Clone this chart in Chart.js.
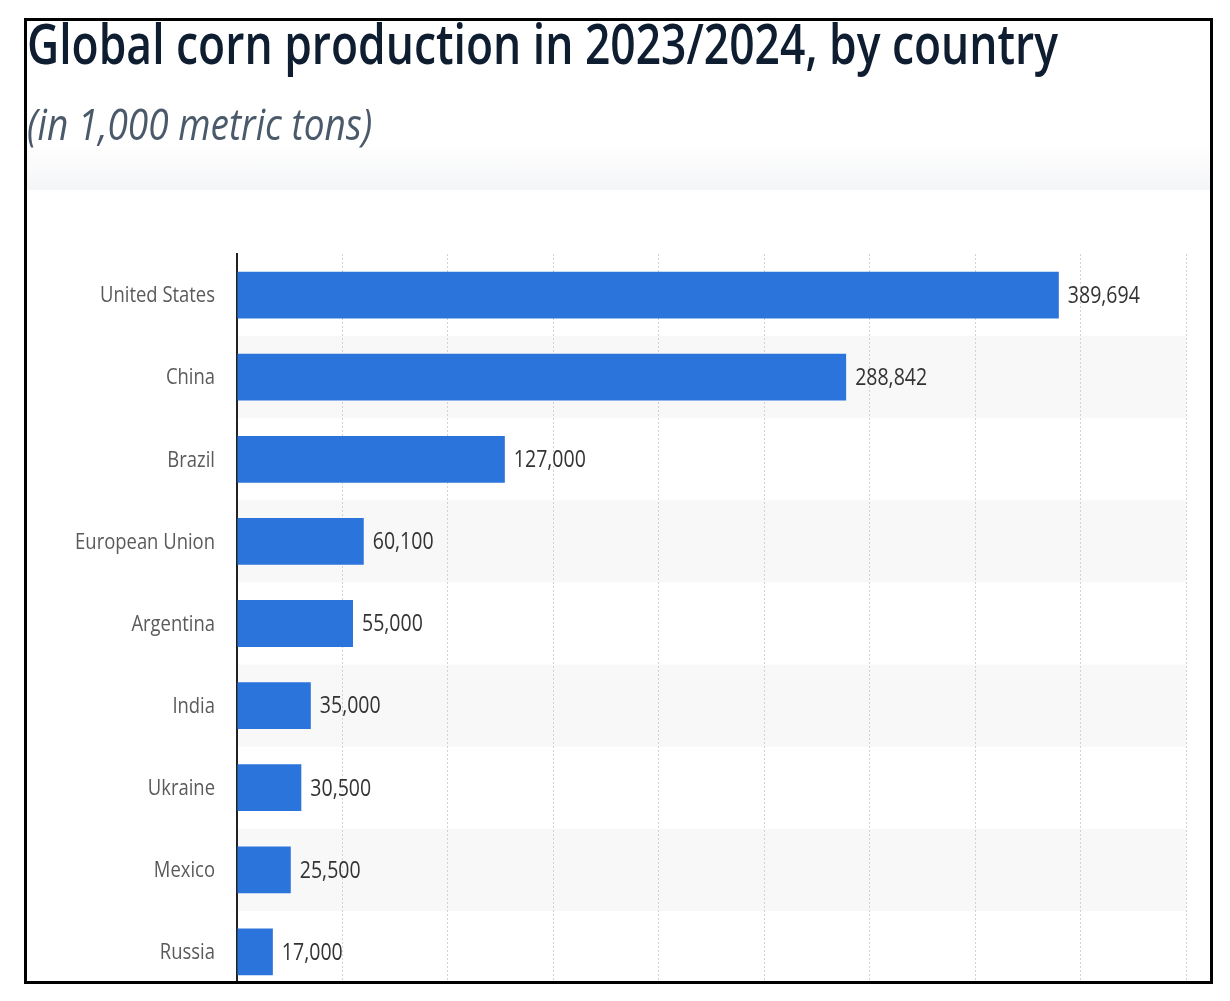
<!DOCTYPE html>
<html>
<head>
<meta charset="utf-8">
<script src="https://cdn.jsdelivr.net/npm/chart.js@4.4.0/dist/chart.umd.min.js"></script>
<style>
  html, body { margin: 0; padding: 0; background: #fff; }
  #page { position: relative; width: 1230px; height: 1001px; overflow: hidden; background: #fff; }
  #clip { position: absolute; left: 0; top: 0; width: 1230px; height: 983px; overflow: hidden; }
  #headerShade { position: absolute; left: 27px; top: 145px; width: 1183px; height: 45px;
    background: linear-gradient(to bottom, rgba(245,246,248,0) 0%, #f4f5f7 100%); }
  #chart { position: absolute; left: 0; top: 0; }
  .title { position: absolute; left: 27px; white-space: nowrap; transform-origin: left top; font-family: "Open Sans", sans-serif; }
  #title { top: 4px; font-size: 56px; font-weight: 600; color: #0f1d31; }
  #subtitle { top: 93px; font-size: 44px; font-style: italic; font-weight: 400; color: #4b5a6b; }
  #frame { position: absolute; left: 24px; top: 18px; width: 1183px; height: 960px; border: 3px solid #000; pointer-events: none; }
</style>
</head>
<body>
<div id="page">
  <div id="clip">
    <div id="headerShade"></div>
    <canvas id="chart" width="1230" height="1002"></canvas>
  </div>
  <div id="title" class="title">Global corn production in 2023/2024, by country</div>
  <div id="subtitle" class="title">(in 1,000 metric tons)</div>
  <div id="frame"></div>
</div>
<script>
// corn production per country, 1,000 metric tons
const countries = ['United States', 'China', 'Brazil', 'European Union', 'Argentina', 'India', 'Ukraine', 'Mexico', 'Russia'];
const production = [389694, 288842, 127000, 60100, 55000, 35000, 30500, 25500, 17000];
const axisMax = 450000;
const axisStep = 50000;

// squeeze the heading text to the width it has in the picture
function fitWidth(id, target) {
    const el = document.getElementById(id);
    el.style.transform = 'scaleX(' + (target / el.offsetWidth) + ')';
}
fitWidth('title', 1031);
fitWidth('subtitle', 345);

const catFont = '22px "Open Sans", sans-serif';
const valFont = '24px "Open Sans", sans-serif';

// horizontal squeeze factor so text is as narrow as in the picture
function squeeze(font, sample, target) {
    const c = document.createElement('canvas').getContext('2d');
    c.font = font;
    return target / c.measureText(sample).width;
}
const catScale = squeeze(catFont, 'United States', 115);
const valScale = squeeze(valFont, '389,694', 72);

function drawNarrow(ctx, text, x, y, scale, align) {
    ctx.save();
    ctx.translate(x, y);
    ctx.scale(scale, 1);
    ctx.textAlign = align;
    ctx.fillText(text, 0, 0);
    ctx.restore();
}

// light grey band behind every second row
const rowBands = {
    id: 'rowBands',
    beforeDraw(chart) {
        const ctx = chart.ctx;
        const area = chart.chartArea;
        const y = chart.scales.y;
        const band = y.getPixelForValue(1) - y.getPixelForValue(0);
        ctx.save();
        ctx.fillStyle = '#f8f8f8';
        countries.forEach((c, i) => {
            if (i % 2 === 1) {
                const cy = y.getPixelForValue(i);
                ctx.fillRect(area.left, cy - band / 2, area.right - area.left, band);
            }
        });
        ctx.restore();
    }
};

// category names on the left, values after each bar
const barTexts = {
    id: 'barTexts',
    afterDatasetsDraw(chart) {
        const ctx = chart.ctx;
        const meta = chart.getDatasetMeta(0);
        const yScale = chart.scales.y;
        ctx.save();
        ctx.textBaseline = 'middle';
        ctx.font = catFont;
        ctx.fillStyle = '#5a5a5a';
        countries.forEach((name, i) => {
            drawNarrow(ctx, name, yScale.right - 22, yScale.getPixelForValue(i) + 1, catScale, 'right');
        });
        ctx.font = valFont;
        ctx.fillStyle = '#333333';
        meta.data.forEach((bar, i) => {
            drawNarrow(ctx, production[i].toLocaleString('en-US'), bar.x + 9, bar.y + 1, valScale, 'left');
        });
        ctx.restore();
    }
};

const ctx = document.getElementById('chart');
ctx.chart = new Chart(ctx, {
    type: 'bar',
    data: {
        labels: countries,
        datasets: [{
            data: production,
            backgroundColor: '#2a74db',
            borderWidth: 0,
            barPercentage: 0.57,
            categoryPercentage: 1
        }]
    },
    options: {
        indexAxis: 'y',
        responsive: false,
        animation: false,
        layout: { padding: { top: 254, right: 44, bottom: 9, left: 0 } },
        plugins: {
            legend: { display: false },
            tooltip: { enabled: false }
        },
        scales: {
            x: {
                min: 0,
                max: axisMax,
                ticks: { display: false, stepSize: axisStep },
                grid: { color: '#d2d2d2', lineWidth: 1, drawTicks: false },
                border: { display: false, dash: [2, 2] },
                afterFit: s => { s.height = 0; }
            },
            y: {
                ticks: { display: false },
                grid: { display: false, drawTicks: false },
                border: { display: true, color: '#222222', width: 2 },
                afterFit: s => { s.width = 237; }
            }
        }
    },
    plugins: [rowBands, barTexts]
});
</script>
</body>
</html>
